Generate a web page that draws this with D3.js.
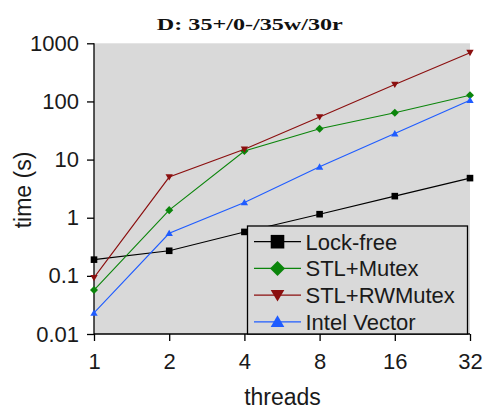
<!DOCTYPE html>
<html>
<head>
<meta charset="utf-8">
<script src="https://cdn.jsdelivr.net/npm/d3@7"></script>
<style>
  body { margin: 0; background: #fff; }
  svg text { font-family: "Liberation Sans", Arial, sans-serif; fill: #1a1a1a; }
</style>
</head>
<body>
<svg id="chart"></svg>
<script>
// data
const threads = [1, 2, 4, 8, 16, 32];
const lockFree = [0.19, 0.27, 0.57, 1.15, 2.35, 4.8];
const stlMutex = [0.057, 1.35, 14, 34, 64, 128];
const stlRWMutex = [0.093, 5.0, 15, 54, 195, 690];
const intelVector = [0.023, 0.54, 1.83, 7.5, 28, 105];
const yTicks = [0.01, 0.1, 1, 10, 100, 1000];
const seriesNames = ['Lock-free', 'STL+Mutex', 'STL+RWMutex', 'Intel Vector'];

const series = [
    {name: seriesNames[0], values: lockFree, color: '#000000', shape: 'square'},
    {name: seriesNames[1], values: stlMutex, color: '#0b850b', shape: 'diamond'},
    {name: seriesNames[2], values: stlRWMutex, color: '#8b0f0f', shape: 'down'},
    {name: seriesNames[3], values: intelVector, color: '#1f5cff', shape: 'up'}
];

const svg = d3.select('#chart').attr('width', 483).attr('height', 410);
const plotLeft = 94, plotRight = 470, plotTop = 43.3, plotBottom = 334;

const x = d3.scaleLog().base(2).domain([1, 32]).range([plotLeft, plotRight]);
const y = d3.scaleLog().domain([0.01, 1000]).range([plotBottom, plotTop]);

// grey plot background
svg.append('rect')
    .attr('x', plotLeft).attr('y', plotTop)
    .attr('width', plotRight - plotLeft).attr('height', plotBottom - plotTop)
    .attr('fill', '#d9d9d9');

// title
svg.append('text')
    .attr('x', (156.7 + 343) / 2).attr('y', 29.5)
    .attr('text-anchor', 'middle')
    .attr('textLength', 186).attr('lengthAdjust', 'spacingAndGlyphs')
    .style('font-family', '"Liberation Serif", "DejaVu Serif", serif')
    .style('font-weight', 'bold')
    .style('font-size', '16.5px')
    .style('fill', '#111')
    .text('D: 35+/0-/35w/30r');

// axes
const yAxis = svg.append('g')
    .attr('transform', `translate(${plotLeft},0)`)
    .call(d3.axisLeft(y).tickValues(yTicks).tickSize(7).tickPadding(8)
        .tickFormat(d => d >= 1 ? d3.format('d')(d) : String(d)));
const xAxis = svg.append('g')
    .attr('transform', `translate(0,${plotBottom})`)
    .call(d3.axisBottom(x).tickValues(threads).tickSize(7).tickPadding(12)
        .tickFormat(d3.format('d')));
[yAxis, xAxis].forEach(a => {
    a.select('.domain').attr('stroke', '#000').attr('stroke-width', 1.3)
        .attr('d', a === yAxis ? `M0,${plotTop}V${plotBottom}` : `M${plotLeft},0H${plotRight}`);
    a.selectAll('.tick line').attr('stroke', '#000').attr('stroke-width', 1.3);
    a.selectAll('.tick text').style('font-size', '22px').attr('fill', '#1a1a1a');
});

// axis titles
svg.append('text')
    .attr('transform', 'translate(31,190) rotate(-90)')
    .attr('text-anchor', 'middle')
    .style('font-size', '23px')
    .text('time (s)');
svg.append('text')
    .attr('x', (plotLeft + plotRight) / 2 + 0.5).attr('y', 405)
    .attr('text-anchor', 'middle')
    .style('font-size', '23px')
    .text('threads');

function markerPath(shape, s) {
    if (shape === 'square') return `M${-s},${-s}H${s}V${s}H${-s}Z`;
    if (shape === 'diamond') return `M0,${-s * 1.15}L${s * 1.15},0L0,${s * 1.15}L${-s * 1.15},0Z`;
    if (shape === 'up') return `M0,${-s}L${s * 1.05},${s * 0.8}L${-s * 1.05},${s * 0.8}Z`;
    return `M0,${s}L${s * 1.05},${-s * 0.8}L${-s * 1.05},${-s * 0.8}Z`;
}

const line = d3.line().x((d, i) => x(threads[i])).y(d => y(d));

const plot = svg.append('g');
series.forEach(s => {
    plot.append('path')
        .attr('d', line(s.values))
        .attr('fill', 'none')
        .attr('stroke', s.color)
        .attr('stroke-width', 1.1);
    plot.selectAll(null)
        .data(s.values)
        .join('path')
        .attr('transform', (d, i) => `translate(${x(threads[i])},${y(d)})`)
        .attr('d', markerPath(s.shape, s.shape === 'square' ? 3.3 : 3.5))
        .attr('fill', s.color);
});

// legend
const legend = svg.append('g');
legend.append('rect')
    .attr('x', 247.5).attr('y', 226)
    .attr('width', 220).attr('height', 108)
    .attr('fill', '#d9d9d9')
    .attr('stroke', '#000').attr('stroke-width', 1.3);
const rows = legend.selectAll('g.row')
    .data(series)
    .join('g')
    .attr('class', 'row')
    .attr('transform', (d, i) => `translate(0,${241.7 + i * 26.7})`);
rows.append('line')
    .attr('x1', 254).attr('x2', 301).attr('y1', 0).attr('y2', 0)
    .attr('stroke', d => d.color).attr('stroke-width', 1.3);
rows.append('path')
    .attr('transform', 'translate(277.5,0)')
    .attr('d', d => markerPath(d.shape, d.shape === 'square' ? 6.8 : 6.5))
    .attr('fill', d => d.color);
rows.append('text')
    .attr('x', 305.5).attr('y', 8)
    .style('font-size', '22px')
    .text(d => d.name);
</script>
</body>
</html>
